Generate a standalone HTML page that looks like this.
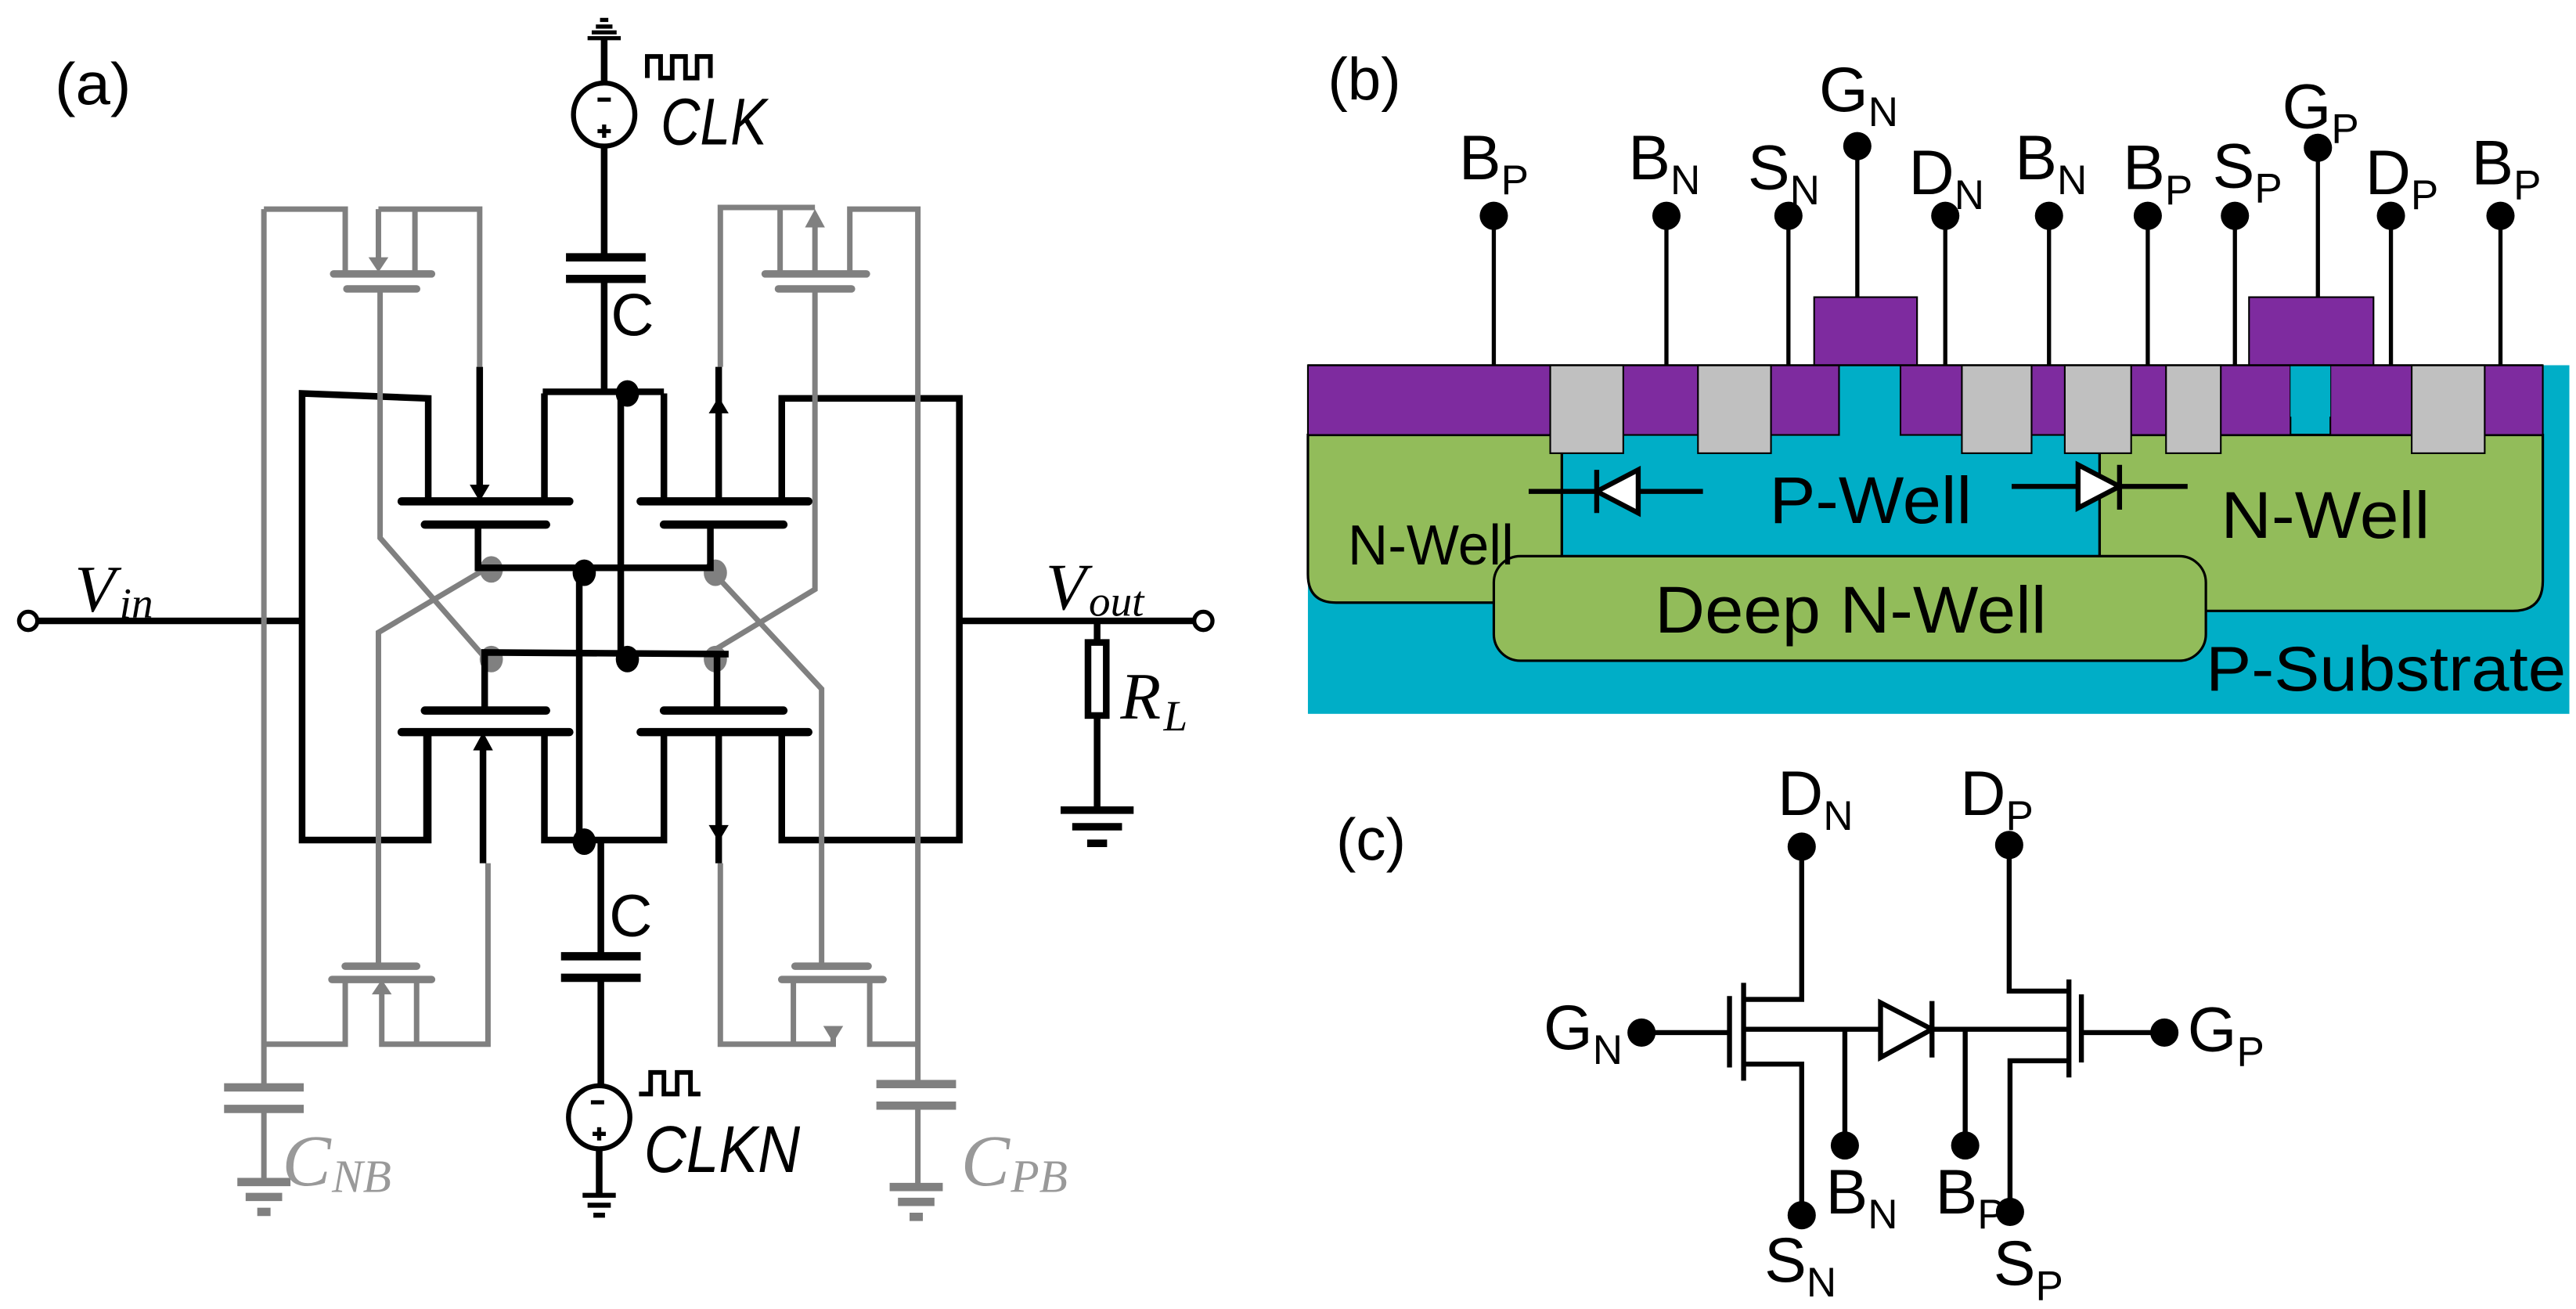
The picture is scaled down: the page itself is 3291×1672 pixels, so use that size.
<!DOCTYPE html>
<html><head><meta charset="utf-8"><style>
html,body{margin:0;padding:0;background:#fff;}
svg{display:block;}
.k{stroke:#000;stroke-width:4;fill:none;}
.g{stroke:#808080;stroke-width:3.3;fill:none;}
.bar{stroke:#000;stroke-width:5;stroke-linecap:round;}
.gbar{stroke:#808080;stroke-width:4.5;stroke-linecap:round;}
.cal{font-family:"Liberation Sans",sans-serif;}
.ser{font-family:"Liberation Serif",serif;font-style:italic;}
</style></head><body>
<svg width="3291" height="1672" viewBox="0 0 1552 788.5" preserveAspectRatio="none" xmlns="http://www.w3.org/2000/svg">
<!-- ============ (a) ============ -->
<text x="33" y="63" class="cal" font-size="36" textLength="46" lengthAdjust="spacingAndGlyphs">(a)</text>
<g stroke="#000" stroke-width="2.5">
<line x1="361.5" y1="12" x2="366.5" y2="12"/><line x1="359" y1="16" x2="369" y2="16"/>
<line x1="356.5" y1="19.5" x2="371.5" y2="19.5"/><line x1="354" y1="23" x2="374" y2="23"/>
</g>
<line class="k" x1="364" y1="23" x2="364" y2="50"/>
<ellipse cx="364" cy="69" rx="18.5" ry="19" fill="none" stroke="#000" stroke-width="3"/>
<line x1="360" y1="60" x2="368" y2="60" stroke="#000" stroke-width="2.5"/>
<line x1="360" y1="79" x2="368" y2="79" stroke="#000" stroke-width="2.5"/><line x1="364" y1="75" x2="364" y2="83" stroke="#000" stroke-width="2.5"/>
<path d="M390 47 V34 H398 V47 H405 V34 H413 V47 H420 V34 H428 V47" stroke="#000" stroke-width="2.8" fill="none"/>
<text x="398" y="87" class="cal" font-style="italic" font-size="40" textLength="64" lengthAdjust="spacingAndGlyphs">CLK</text>
<line class="k" x1="364" y1="88" x2="364" y2="153"/>
<line x1="341" y1="155" x2="389" y2="155" stroke="#000" stroke-width="5"/>
<line x1="341" y1="168" x2="389" y2="168" stroke="#000" stroke-width="5"/>
<text x="368" y="202" class="cal" font-size="36">C</text>
<path class="k" d="M364 168 V236 M327 236 H400"/>
<path class="k" d="M182 374 V237 L258 240 V302 M182 374 V506 H258 V441"/>
<line class="k" x1="17" y1="374" x2="182" y2="374"/>
<circle cx="17" cy="374" r="5.5" fill="#fff" stroke="#000" stroke-width="2.5"/>
<text x="45" y="368" class="ser" font-size="40">V</text><text x="72" y="372" class="ser" font-size="26">in</text>
<path class="k" d="M471 302 V240 H578 V506 H471 V441"/>
<line class="k" x1="578" y1="374" x2="720" y2="374"/>
<circle cx="725" cy="374" r="5.5" fill="#fff" stroke="#000" stroke-width="2.5"/>
<text x="630" y="367" class="ser" font-size="40">V</text><text x="656" y="371" class="ser" font-size="26">out</text>
<line class="k" x1="661" y1="374" x2="661" y2="387"/>
<rect x="655.5" y="387" width="11" height="44" fill="#fff" stroke="#000" stroke-width="4"/>
<line class="k" x1="661" y1="431" x2="661" y2="487"/>
<line x1="639" y1="488" x2="683" y2="488" stroke="#000" stroke-width="4.5"/>
<line x1="646" y1="498" x2="676" y2="498" stroke="#000" stroke-width="4.5"/>
<line x1="655" y1="508" x2="667" y2="508" stroke="#000" stroke-width="4.5"/>
<text x="675" y="433" class="ser" font-size="40">R</text><text x="701" y="440" class="ser" font-size="26">L</text>

<g class="g">
<path d="M159 126 H208 V165 M228 126 H289 V221 M250 126 V165 M228 126 V156 M159 126 V654"/>
<path d="M229 173 V324 L292 396"/>
<path d="M292 343 L228 381 V582"/>
<path d="M434 221 V125 H491 M470 125 V165 M491 137 V165 M512 165 V126 H553 V652"/>
<path d="M491 173 V355 L428 393"/>
<path d="M428 343 L495 415 V582"/>
<path d="M159 629 H208 V590 M230 598 V629 H294 V520 M251 590 V629"/>
<path d="M434 520 V629 H502 V620 M478 590 V629 M524 590 V629 H553"/>
<path d="M159 670 V711 M553 668 V714"/>
</g>
<g fill="#808080">
<polygon points="222,155 234,155 228,164"/>
<polygon points="485,137 497,137 491,126"/>
<polygon points="224,599 236,599 230,590"/>
<polygon points="496,618 508,618 502,628"/>
<ellipse cx="296" cy="343" rx="7" ry="8"/><ellipse cx="431" cy="345" rx="7" ry="8"/>
<ellipse cx="296" cy="397" rx="7" ry="8"/><ellipse cx="431" cy="397" rx="7" ry="8"/>
</g>
<g class="gbar">
<line x1="201" y1="165" x2="260" y2="165"/><line x1="209" y1="174" x2="251" y2="174"/>
<line x1="461" y1="165" x2="522" y2="165"/><line x1="469" y1="174" x2="513" y2="174"/>
<line x1="208" y1="582" x2="251" y2="582"/><line x1="200" y1="590" x2="260" y2="590"/>
<line x1="479" y1="582" x2="523" y2="582"/><line x1="471" y1="590" x2="532" y2="590"/>
</g>
<g stroke="#808080" stroke-width="5">
<line x1="135" y1="655" x2="183" y2="655"/><line x1="135" y1="668" x2="183" y2="668"/>
<line x1="528" y1="653" x2="576" y2="653"/><line x1="528" y1="666" x2="576" y2="666"/>
<line x1="143" y1="712" x2="175" y2="712"/><line x1="148" y1="721" x2="170" y2="721"/><line x1="155" y1="730" x2="163" y2="730"/>
<line x1="536" y1="715" x2="568" y2="715"/><line x1="541" y1="724" x2="563" y2="724"/><line x1="548" y1="733" x2="556" y2="733"/>
</g>
<text x="170" y="714" class="ser" font-size="44" fill="#999">C</text><text x="200" y="718" class="ser" font-size="28" fill="#999">NB</text>
<text x="579" y="714" class="ser" font-size="44" fill="#999">C</text><text x="609" y="718" class="ser" font-size="28" fill="#999">PB</text>

<g class="bar">
<line x1="242" y1="302" x2="343" y2="302"/><line x1="256" y1="316" x2="329" y2="316"/>
<line x1="386" y1="302" x2="487" y2="302"/><line x1="400" y1="316" x2="472" y2="316"/>
<line x1="256" y1="428" x2="329" y2="428"/><line x1="242" y1="441" x2="343" y2="441"/>
<line x1="400" y1="428" x2="472" y2="428"/><line x1="386" y1="441" x2="487" y2="441"/>
</g>
<g class="k">
<path d="M328 302 V237 M400 302 V237"/>
<path d="M289 221 V293 M433 302 V221"/>
<path d="M288 316 V342 H428 V316"/>
<path d="M292 428 V393 L439 394 M432 428 V394"/>
<path d="M349 342 V506 M374 236 V395"/>
<path d="M257 441 V506 M328 441 V506 H400 V441"/>
<path d="M291 450 V520 M433 441 V520"/>
<path d="M362 506 V574"/>
</g>
<g fill="#000">
<polygon points="283,292 295,292 289,302"/>
<polygon points="427,249 439,249 433,239"/>
<polygon points="285,452 297,452 291,441"/>
<polygon points="427,497 439,497 433,507"/>
<ellipse cx="378" cy="237" rx="7" ry="8"/>
<ellipse cx="352" cy="345" rx="7" ry="8"/>
<ellipse cx="378" cy="397" rx="7" ry="8"/>
<ellipse cx="352" cy="507" rx="7" ry="8"/>
</g>
<line x1="338" y1="576" x2="386" y2="576" stroke="#000" stroke-width="5"/>
<line x1="338" y1="589" x2="386" y2="589" stroke="#000" stroke-width="5"/>
<text x="367" y="564" class="cal" font-size="36">C</text>
<line class="k" x1="362" y1="589" x2="362" y2="654"/>
<ellipse cx="361" cy="673" rx="18.5" ry="19" fill="none" stroke="#000" stroke-width="3"/>
<line x1="356" y1="664" x2="364" y2="664" stroke="#000" stroke-width="2.5"/>
<line x1="357" y1="683" x2="365" y2="683" stroke="#000" stroke-width="2.5"/><line x1="361" y1="679" x2="361" y2="687" stroke="#000" stroke-width="2.5"/>
<path d="M385 659 H392 V646 H400 V659 H408 V646 H416 V659 H422" stroke="#000" stroke-width="2.8" fill="none"/>
<text x="388" y="706" class="cal" font-style="italic" font-size="40" textLength="94" lengthAdjust="spacingAndGlyphs">CLKN</text>
<line class="k" x1="361" y1="692" x2="361" y2="719"/>
<g stroke="#000" stroke-width="3">
<line x1="351" y1="720" x2="371" y2="720"/><line x1="354" y1="726" x2="368" y2="726"/><line x1="357.5" y1="732" x2="364.5" y2="732"/>
</g>

<!-- ============ (b) ============ -->
<text x="800" y="60" class="cal" font-size="36" textLength="44" lengthAdjust="spacingAndGlyphs">(b)</text>
<rect x="788" y="220" width="760" height="210" fill="#00AEC7"/>
<path d="M788 262 H941 V363 H805 Q788 363 788 346 Z" fill="#92BC5A" stroke="#000" stroke-width="1.5"/>
<path d="M1265 262 H1532 V350 Q1532 368 1514 368 H1265 Z" fill="#92BC5A" stroke="#000" stroke-width="1.5"/>
<line x1="941" y1="262" x2="941" y2="336" stroke="#000" stroke-width="1.5"/>
<line x1="1265" y1="262" x2="1265" y2="336" stroke="#000" stroke-width="1.5"/>
<rect x="900" y="335" width="429" height="63" rx="16" fill="#92BC5A" stroke="#000" stroke-width="1.5"/>
<g fill="#7E2B9F" stroke="#000" stroke-width="1">
<rect x="788" y="220" width="320" height="42"/>
<rect x="1145" y="220" width="235" height="42"/>
<rect x="1404" y="220" width="128" height="42"/>
<rect x="1380" y="220" width="24" height="31" fill="#00AEC7" stroke="none"/>
<rect x="1093" y="179" width="62" height="41"/>
<rect x="1355" y="179" width="75" height="41"/>
</g>
<rect x="1108.5" y="221" width="36" height="41" fill="#00AEC7"/>
<g fill="#C0C0C0" stroke="#000" stroke-width="1">
<rect x="934" y="220" width="44" height="53"/>
<rect x="1023" y="220" width="44" height="53"/>
<rect x="1182" y="220" width="42" height="53"/>
<rect x="1244" y="220" width="40" height="53"/>
<rect x="1305" y="220" width="33" height="53"/>
<rect x="1453" y="220" width="44" height="53"/>
</g>
<line x1="788" y1="220" x2="1532" y2="220" stroke="#000" stroke-width="1.2"/>
<g stroke="#000" stroke-width="2.5">
<line x1="900" y1="130" x2="900" y2="220"/><line x1="1004" y1="130" x2="1004" y2="220"/>
<line x1="1077.5" y1="130" x2="1077.5" y2="220"/><line x1="1119" y1="88" x2="1119" y2="179"/>
<line x1="1172" y1="130" x2="1172" y2="220"/><line x1="1234.5" y1="130" x2="1234.5" y2="220"/>
<line x1="1294" y1="130" x2="1294" y2="220"/><line x1="1346.5" y1="130" x2="1346.5" y2="220"/>
<line x1="1396.5" y1="89" x2="1396.5" y2="179"/><line x1="1440.5" y1="130" x2="1440.5" y2="220"/>
<line x1="1506.5" y1="130" x2="1506.5" y2="220"/>
</g>
<g fill="#000">
<circle cx="900" cy="130" r="8.5"/><circle cx="1004" cy="130" r="8.5"/><circle cx="1077.5" cy="130" r="8.5"/>
<circle cx="1119" cy="88" r="8.5"/><circle cx="1172" cy="130" r="8.5"/><circle cx="1234.5" cy="130" r="8.5"/>
<circle cx="1294" cy="130" r="8.5"/><circle cx="1346.5" cy="130" r="8.5"/><circle cx="1396.5" cy="89" r="8.5"/>
<circle cx="1440.5" cy="130" r="8.5"/><circle cx="1506.5" cy="130" r="8.5"/>
</g>
<g class="cal" font-size="38">
<text x="879" y="108">B<tspan font-size="25" dy="9">P</tspan></text>
<text x="981" y="108">B<tspan font-size="25" dy="9">N</tspan></text>
<text x="1053" y="114">S<tspan font-size="25" dy="9">N</tspan></text>
<text x="1096" y="67">G<tspan font-size="25" dy="9">N</tspan></text>
<text x="1150" y="117">D<tspan font-size="25" dy="9">N</tspan></text>
<text x="1214" y="108">B<tspan font-size="25" dy="9">N</tspan></text>
<text x="1279" y="114">B<tspan font-size="25" dy="9">P</tspan></text>
<text x="1333" y="113">S<tspan font-size="25" dy="9">P</tspan></text>
<text x="1375" y="77">G<tspan font-size="25" dy="9">P</tspan></text>
<text x="1425" y="117">D<tspan font-size="25" dy="9">P</tspan></text>
<text x="1489" y="111">B<tspan font-size="25" dy="9">P</tspan></text>
</g>
<g stroke="#000" stroke-width="3">
<line x1="921" y1="296" x2="1026" y2="296"/>
<polygon points="962,296 987,283 987,309" fill="#fff"/>
<line x1="962" y1="283" x2="962" y2="309"/>
<line x1="1212" y1="293" x2="1318" y2="293"/>
<polygon points="1277,293 1252,280 1252,306" fill="#fff"/>
<line x1="1277" y1="280" x2="1277" y2="307"/>
</g>
<g class="cal" fill="#000">
<text x="1066" y="315" font-size="40" textLength="122" lengthAdjust="spacingAndGlyphs">P-Well</text>
<text x="812" y="340" font-size="34" textLength="100" lengthAdjust="spacingAndGlyphs">N-Well</text>
<text x="1338" y="324" font-size="40" textLength="126" lengthAdjust="spacingAndGlyphs">N-Well</text>
<text x="997" y="381" font-size="40" textLength="236" lengthAdjust="spacingAndGlyphs">Deep N-Well</text>
<text x="1329" y="416" font-size="38" textLength="217" lengthAdjust="spacingAndGlyphs">P-Substrate</text>
</g>

<!-- ============ (c) ============ -->
<text x="805" y="518" class="cal" font-size="36" textLength="42" lengthAdjust="spacingAndGlyphs">(c)</text>
<g fill="none" stroke="#000" stroke-width="3">
<path d="M1085.5 510 V602 H1050"/>
<path d="M1050 641 H1085.5 V732"/>
<path d="M989 622 H1042"/>
<path d="M1050 620 H1246"/>
<path d="M1111.5 620 V690 M1184 620 V690"/>
<path d="M1210.5 509 V597 H1246"/>
<path d="M1246 639 H1211 V730"/>
<path d="M1254 622 H1304"/>
</g>
<line x1="1050.5" y1="592" x2="1050.5" y2="651" stroke="#000" stroke-width="3"/>
<line x1="1042" y1="600" x2="1042" y2="643" stroke="#000" stroke-width="3"/>
<line x1="1246.5" y1="590" x2="1246.5" y2="649" stroke="#000" stroke-width="3"/>
<line x1="1254" y1="599" x2="1254" y2="640" stroke="#000" stroke-width="3"/>
<polygon points="1133,604 1133,637 1164,620" fill="#fff" stroke="#000" stroke-width="3"/>
<line x1="1164" y1="603" x2="1164" y2="637" stroke="#000" stroke-width="3"/>
<g fill="#000">
<circle cx="1085.5" cy="510" r="8.5"/><circle cx="1210.5" cy="509" r="8.5"/>
<circle cx="989" cy="622" r="8.5"/><circle cx="1304" cy="622" r="8.5"/>
<circle cx="1111.5" cy="690" r="8.5"/><circle cx="1184" cy="690" r="8.5"/>
<circle cx="1085.5" cy="732" r="8.5"/><circle cx="1211" cy="730" r="8.5"/>
</g>
<g class="cal" font-size="38">
<text x="1071" y="491">D<tspan font-size="25" dy="9">N</tspan></text>
<text x="1181" y="491">D<tspan font-size="25" dy="9">P</tspan></text>
<text x="930" y="632">G<tspan font-size="25" dy="9">N</tspan></text>
<text x="1318" y="633">G<tspan font-size="25" dy="9">P</tspan></text>
<text x="1100" y="731">B<tspan font-size="25" dy="9">N</tspan></text>
<text x="1166" y="731">B<tspan font-size="25" dy="9">P</tspan></text>
<text x="1063" y="772">S<tspan font-size="25" dy="9">N</tspan></text>
<text x="1201" y="774">S<tspan font-size="25" dy="9">P</tspan></text>
</g>
</svg>
</body></html>
